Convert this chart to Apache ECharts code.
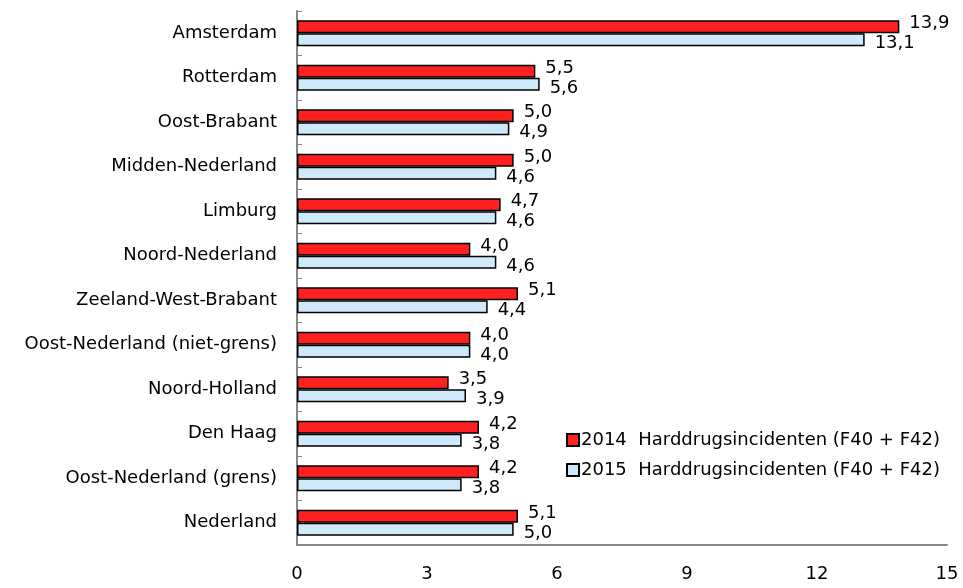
<!DOCTYPE html>
<html>
<head>
<meta charset="utf-8">
<script src="https://cdn.jsdelivr.net/npm/echarts@6/dist/echarts.min.js"></script>
<style>
  html, body { margin: 0; padding: 0; background: #fff; }
  #chart { width: 963px; height: 588px; }
</style>
</head>
<body>
<div id="chart"></div>
<script>
// regio's, van boven naar beneden
const regions = [
  'Amsterdam', 'Rotterdam', 'Oost-Brabant', 'Midden-Nederland', 'Limburg',
  'Noord-Nederland', 'Zeeland-West-Brabant', 'Oost-Nederland (niet-grens)',
  'Noord-Holland', 'Den Haag', 'Oost-Nederland (grens)', 'Nederland'
];
const values2014 = [13.9, 5.5, 5.0, 5.0, 4.7, 4.0, 5.1, 4.0, 3.5, 4.2, 4.2, 5.1];
const values2015 = [13.1, 5.6, 4.9, 4.6, 4.6, 4.6, 4.4, 4.0, 3.9, 3.8, 3.8, 5.0];
const xTicks = [0, 3, 6, 9, 12, 15];

const font = 'DejaVu Sans';
const chart = echarts.init(document.getElementById('chart'), null, { renderer: 'canvas' });

// getal met komma
const fmt = (p) => p.value.toFixed(1).replace('.', ',');

const option = {
  animation: false,
  textStyle: { fontFamily: font },
  grid: { left: 297, right: 16, top: 11, bottom: 43, containLabel: false },
  legend: {
    orient: 'vertical',
    left: 561,
    top: 426,
    itemWidth: 12,
    itemHeight: 12,
    itemGap: 12,
    icon: 'rect',
    textStyle: { fontFamily: font, fontSize: 18, color: '#000', padding: [0, 0, 0, -3] },
    data: ['2014  Harddrugsincidenten (F40 + F42)', '2015  Harddrugsincidenten (F40 + F42)']
  },
  xAxis: {
    type: 'value',
    min: xTicks[0],
    max: xTicks[xTicks.length - 1],
    interval: 3,
    splitLine: { show: false },
    axisTick: { show: false },
    axisLine: { show: true, lineStyle: { color: '#888', width: 2 } },
    axisLabel: { fontFamily: font, fontSize: 18, color: '#000', margin: 20 }
  },
  yAxis: {
    type: 'category',
    inverse: true,
    data: regions,
    axisLine: { show: true, lineStyle: { color: '#888', width: 2 } },
    axisTick: { show: true, inside: true, length: 5, lineStyle: { color: '#888' } },
    axisLabel: { fontFamily: font, fontSize: 18, color: '#000', margin: 20 }
  },
  series: [
    {
      name: '2014  Harddrugsincidenten (F40 + F42)',
      type: 'bar',
      data: values2014,
      barWidth: 13,
      barGap: '0%',
      itemStyle: { color: '#ff2020', borderColor: '#000', borderWidth: 1.5 },
      label: {
        show: true, position: 'right', distance: 10, offset: [0, -3],
        formatter: fmt, fontFamily: font, fontSize: 18, color: '#000'
      }
    },
    {
      name: '2015  Harddrugsincidenten (F40 + F42)',
      type: 'bar',
      data: values2015,
      barWidth: 13,
      itemStyle: { color: '#cde9fa', borderColor: '#000', borderWidth: 1.5 },
      label: {
        show: true, position: 'right', distance: 10, offset: [0, 4],
        formatter: fmt, fontFamily: font, fontSize: 18, color: '#000'
      }
    }
  ]
};
chart.setOption(option);
</script>
</body>
</html>
